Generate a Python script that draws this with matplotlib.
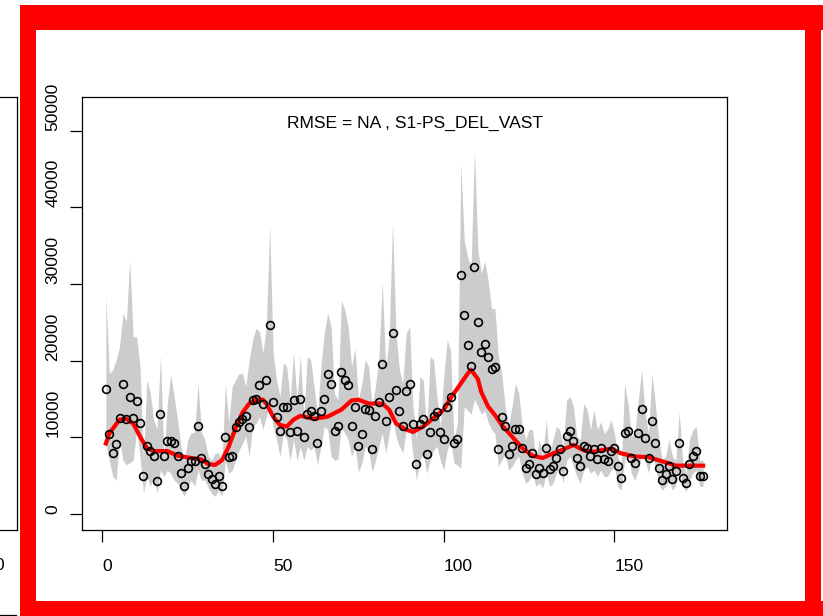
import matplotlib
matplotlib.use("Agg")
import matplotlib.pyplot as plt
from matplotlib.patches import Rectangle
from matplotlib.lines import Line2D
import numpy as np

W, H = 823, 616

# observed index, one value per time step (1..176)
obs = [16300, 10390, 8000, 9090, 12560, 16950, 12340, 15210, 12560, 14780,
       11900, 4950, 8870, 8210, 7560, 4300, 13040, 7560, 9520, 9520,
       9300, 7560, 5390, 3650, 6040, 6910, 6910, 11470, 7340, 6480,
       5180, 4520, 3870, 4950, 3650, 10000, 7390, 7600, 11300, 11950,
       12390, 12820, 11300, 14820, 15040, 16780, 14380, 17470, 24640, 14600,
       12650, 10860, 13950, 13950, 10650, 14820, 10860, 14990, 10000, 13040,
       13470, 12820, 9300, 13470, 15040, 18290, 16990, 10860, 11510, 18510,
       17430, 16780, 11510, 13910, 8900, 10430, 13730, 13520, 8440, 12820,
       14600, 19600, 12160, 15250, 23560, 16130, 13470, 11510, 16080, 16950,
       11730, 6480, 11730, 12390, 7780, 10650, 12820, 13260, 10650, 9780,
       13910, 15250, 9300, 9740, 31160, 25950, 21990, 19340, 32240, 25030,
       21120, 22200, 20470, 18950, 19170, 8440, 12600, 11510, 7780, 8870,
       11080, 11080, 8640, 6040, 6480, 8000, 5180, 6040, 5390, 8640,
       5830, 6260, 7340, 8440, 5610, 10170, 10820, 9520, 7340, 6260,
       8870, 8640, 7560, 8440, 7130, 8640, 7130, 6910, 8210, 8640,
       6260, 4730, 10600, 10820, 7340, 6690, 10600, 13690, 9950, 7340,
       12120, 9300, 6040, 4430, 5180, 6260, 4520, 5610, 9300, 4730,
       4080, 6480, 7560, 8210, 4950, 4950]

# grey interval, upper and lower edge
upper = [28400, 18300, 18800, 20100, 21800, 26200, 25100, 33100, 23100, 23100,
         19200, 7000, 17500, 15800, 12300, 11000, 20700, 7000, 14500, 18100,
         15300, 12300, 8800, 7000, 9700, 10600, 10600, 17000, 10600, 9700,
         7500, 7000, 7900, 8000, 6500, 17000, 11900, 16600, 17500, 18300,
         18300, 16600, 20100, 22700, 24200, 23800, 21000, 24400, 37700, 21000,
         17500, 15300, 19700, 19200, 14900, 21000, 14900, 20700, 12700, 20500,
         20100, 16600, 13100, 19200, 23600, 26200, 24400, 15700, 14900, 27900,
         26600, 24400, 19200, 21600, 14900, 17000, 20100, 19200, 14000, 16600,
         20500, 30300, 18800, 23100, 38100, 23600, 18800, 17000, 23600, 24400,
         14000, 9700, 17900, 17500, 10500, 20500, 20100, 15300, 11400, 17900,
         22700, 21400, 9700, 11800, 45700, 35700, 33500, 32200, 47500, 34400,
         31400, 32900, 30500, 26800, 26800, 20500, 18300, 14000, 11400, 14000,
         17000, 15700, 11400, 9700, 11000, 11000, 7000, 9700, 7500, 12300,
         7500, 9700, 11400, 11000, 8800, 14900, 15300, 14000, 10100, 9700,
         14400, 13600, 11000, 13600, 11000, 12000, 10500, 11000, 12300, 10500,
         7500, 6200, 17000, 14400, 10100, 10500, 14900, 18800, 13100, 10500,
         18300, 14400, 9700, 7000, 7500, 9700, 7500, 7000, 13300, 7000,
         5300, 9700, 11000, 11400, 7000, 7000]
lower = [9000, 7000, 4900, 4400, 9700, 7000, 6400, 6700, 7000, 11000,
         7500, 2700, 4900, 3600, 4900, 2700, 5700, 4900, 5700, 5300,
         4400, 4000, 3100, 2300, 3600, 4400, 3600, 5700, 4400, 4400,
         3400, 2700, 2300, 3100, 2300, 7000, 5300, 5700, 7000, 8300,
         9200, 10100, 7500, 11400, 11800, 12700, 11000, 12700, 14400, 11400,
         9700, 7500, 10500, 9700, 7000, 9700, 7000, 8800, 7000, 8800,
         8300, 8800, 6400, 8800, 11400, 11000, 7500, 7000, 7200, 11400,
         10500, 9700, 7500, 8800, 5500, 6600, 8800, 8300, 5500, 7000,
         8800, 10500, 7900, 10500, 12700, 10100, 8800, 8000, 10900, 11800,
         7500, 4400, 7000, 7900, 5300, 7000, 8300, 8800, 7000, 5700,
         8300, 9700, 6600, 6400, 6000, 14000, 13500, 13000, 15000, 14000,
         13000, 13500, 12000, 11000, 10500, 6200, 7000, 7900, 5700, 6200,
         7000, 7500, 5300, 4000, 4400, 5300, 3600, 4000, 3400, 5300,
         3600, 4000, 5300, 6200, 4000, 7000, 7500, 6200, 4900, 4000,
         5700, 6200, 5300, 5700, 4900, 5700, 4900, 4900, 5700, 6200,
         3600, 3100, 7000, 7900, 5300, 4400, 5700, 7900, 7000, 5300,
         7900, 6200, 4000, 3100, 3600, 4400, 3100, 3800, 6200, 3600,
         2900, 4400, 5300, 5700, 3600, 3600]

# smooth fit (red line) read at knots
fit_x = [1, 2, 5, 7, 9, 11, 13, 15, 19, 22, 26, 29, 31, 33, 35, 37, 39, 41, 43,
         45, 47, 48, 50, 52, 54, 56, 58, 62, 66, 70, 73, 75, 78, 82, 84, 86,
         89, 91, 94, 97, 100, 102, 105, 107, 108, 110, 111, 113, 115, 117,
         120, 123, 126, 129, 132, 135, 138, 141, 144, 146, 149, 152, 156,
         160, 163, 166, 168, 172, 176]
fit_y = [9200, 10500, 12300, 12400, 11800, 10100, 8600, 8200, 8200, 7600,
         7300, 7100, 6500, 6400, 7000, 8800, 11200, 13200, 14400, 14900,
         14900, 14400, 12700, 11600, 11400, 12300, 12800, 12400, 12700,
         13600, 14800, 14900, 14400, 14400, 13600, 11800, 11000, 10700,
         11400, 12500, 13600, 15100, 17000, 18300, 18800, 17600, 15900,
         14000, 12900, 11600, 10100, 8600, 7600, 7300, 7900, 8400, 9000,
         8300, 8100, 8300, 8500, 7900, 7500, 7400, 7000, 6600, 6300, 6300,
         6300]

x = np.arange(1, len(obs) + 1)
title = "RMSE = NA , S1-PS_DEL_VAST"

plt.rcParams["font.family"] = ["Liberation Sans", "DejaVu Sans"]

fig = plt.figure(figsize=(W / 100, H / 100), dpi=100)
ax = fig.add_axes([82 / W, 1 - 530 / H, (727 - 82) / W, (530 - 97) / H])

ax.fill_between(x, lower, upper, color="#CCCCCC", linewidth=0, zorder=1)
ax.plot(fit_x, fit_y, color="red", lw=3, zorder=2)
ax.plot(x, obs, "o", mfc="none", mec="black", ms=5.6, mew=1.2, zorder=3)

ax.set_xlim(-6, 183)
ax.set_ylim(-2090, 54370)
ax.set_xticks([0, 50, 100, 150])
ax.set_yticks(range(0, 50001, 10000))
ax.tick_params(direction="out", length=8.6, width=0.9, labelsize=12.6,
               colors="black")
ax.tick_params(axis="x", pad=12)
ax.tick_params(axis="y", pad=7)
for lab in ax.get_xticklabels():
    lab.set_ha("left")
for lab in ax.get_yticklabels():
    lab.set_rotation(90)
    lab.set_va("bottom")
for s in ax.spines.values():
    s.set_linewidth(0.9)

ax.text(0.517, (530 - 128) / 433, title, transform=ax.transAxes,
        ha="center", va="baseline", fontsize=12.6)


def fx(px):
    return px / W


def fy(py):
    return 1 - py / H


# edge of the neighbouring panel on the left
for xs, ys in [([0, 17], [97, 97]), ([0, 17], [530, 530]),
               ([17, 17], [97, 530]), ([0, 16], [615, 615])]:
    fig.add_artist(Line2D([fx(v) for v in xs], [fy(v) for v in ys],
                          color="black", lw=0.9))
fig.text(fx(4), fy(565), "0", ha="right", va="center", fontsize=12.6)

# red highlight frame
for x0, y0, x1, y1 in [(20, 5, 36, 616), (20, 5, 823, 30),
                       (805, 5, 821, 616), (20, 601, 823, 616)]:
    fig.add_artist(Rectangle((fx(x0), fy(y1)), fx(x1) - fx(x0), fy(y0) - fy(y1),
                             transform=fig.transFigure, color="red", lw=0))

fig.savefig("out.png", dpi=100)
